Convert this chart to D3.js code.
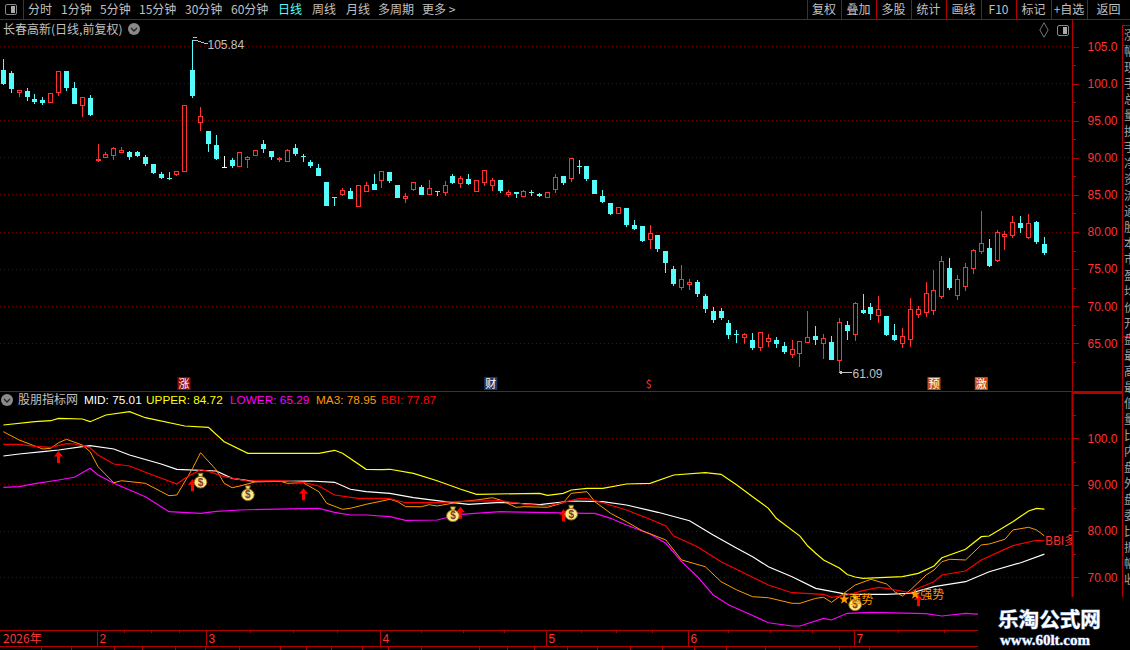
<!DOCTYPE html>
<html>
<head>
<meta charset="utf-8">
<script src="https://cdn.jsdelivr.net/npm/d3@7"></script>
<style>
  html, body { margin: 0; padding: 0; background: #000; overflow: hidden; }
  svg { display: block; }
  text { font-family: "Liberation Sans", "Noto Sans CJK SC", sans-serif; }
  .cjk { font-family: "Noto Sans CJK SC", sans-serif; }
</style>
</head>
<body>
<script>
// candles, one entry per trading day
var opens = [101.80,101.40,98.83,98.96,97.88,97.75,97.39,98.78,101.67,99.37,97.07,98.02,89.64,90.05,90.36,90.72,90.72,90.72,90.05,89.10,87.88,87.34,87.75,88.15,101.80,94.82,93.56,91.67,88.76,89.77,88.74,89.68,90.23,91.80,90.86,89.73,89.50,91.26,90.18,89.37,88.69,86.80,84.77,85.09,85.59,83.47,85.50,86.53,
  86.98,88.02,86.40,84.50,85.72,86.13,85.05,85.54,85.32,87.61,86.53,87.21,85.45,86.71,86.26,87.07,85.05,85.36,84.77,85.45,85.18,84.64,85.72,87.48,87.21,88.96,88.83,87.07,84.91,83.96,82.52,83.29,80.99,80.86,78.96,79.64,77.48,75.05,72.48,72.88,73.29,71.40,69.37,69.37,67.75,66.26,65.72,
  65.45,64.50,65.18,65.45,64.64,63.42,63.60,65.05,65.99,64.91,65.18,62.61,67.48,66.13,69.50,69.91,68.69,68.69,66.13,64.91,65.45,68.83,69.10,69.37,71.26,75.18,71.40,72.61,75.05,77.34,77.88,76.13,79.41,79.50,81.26,79.23,81.40,78.42];
var closes = [99.91,99.23,99.05,98.15,97.48,97.34,98.65,101.62,99.37,97.21,98.11,95.72,89.77,90.45,91.26,90.99,90.05,90.18,89.10,87.88,87.34,87.25,88.11,97.03,98.29,95.59,91.80,89.77,88.76,88.96,90.68,90.00,90.95,91.13,90.05,89.86,90.95,90.45,90.05,88.83,87.61,83.56,84.68,85.59,84.50,86.26,86.26,85.72,
  88.15,86.80,84.64,84.77,86.67,85.05,85.86,85.41,86.26,86.67,87.21,86.53,86.94,88.29,86.94,85.59,85.36,85.05,85.45,85.27,84.86,85.27,87.34,86.53,89.91,88.87,87.07,85.18,84.10,82.48,83.29,80.99,80.45,78.83,79.77,77.75,75.86,73.02,73.56,73.15,71.67,69.64,68.15,68.42,66.13,66.13,66.13,
  64.37,66.49,65.59,64.91,63.83,64.10,65.18,65.72,65.45,65.59,62.75,67.75,66.67,70.32,69.10,68.96,69.50,66.13,65.45,65.86,69.50,69.50,71.67,72.07,75.99,72.48,73.56,75.18,77.48,78.42,75.45,79.91,79.64,81.26,80.59,81.13,78.69,77.18];
var highs = [103.29,101.67,99.19,99.37,98.56,98.15,98.65,101.62,101.67,100.18,98.11,98.42,91.80,90.72,91.40,91.40,90.86,90.86,90.32,89.23,88.15,88.02,88.11,97.03,105.84,96.80,93.56,93.02,90.18,89.91,90.68,90.18,90.95,92.34,90.86,90.14,91.22,91.80,90.45,89.77,89.23,86.80,84.77,85.99,85.99,86.40,86.76,87.88,
  88.15,88.15,86.40,85.32,86.67,86.40,87.07,85.59,86.94,87.75,87.48,87.88,86.94,88.29,87.34,87.07,85.72,85.45,85.72,85.72,85.32,85.27,87.75,87.61,89.91,89.77,88.96,87.07,85.72,83.96,83.42,83.29,81.67,80.86,80.99,79.64,77.48,75.45,75.59,73.69,73.56,71.67,69.91,69.77,68.15,66.80,66.40,
  66.40,66.49,66.26,65.86,65.18,65.45,65.18,69.37,67.34,66.26,65.99,68.42,68.02,70.59,71.67,70.45,71.40,68.69,67.61,67.07,71.13,70.05,73.29,74.91,76.80,76.53,74.23,75.86,77.75,82.88,79.10,80.32,80.18,82.21,82.21,82.48,81.53,79.37];
var lows = [99.77,98.69,98.15,97.61,97.21,97.07,97.39,98.29,98.96,97.21,95.45,95.59,89.50,89.91,89.64,90.59,89.77,90.05,88.96,87.75,87.21,87.07,87.48,88.15,98.02,93.56,90.72,89.64,88.56,88.56,88.74,88.69,90.23,90.59,89.64,89.37,89.37,90.18,89.37,88.56,87.48,83.56,83.56,84.91,84.50,83.47,85.50,85.72,
  85.99,86.67,84.64,83.96,85.59,85.05,85.05,84.91,84.91,86.53,85.99,86.40,85.45,86.26,85.59,85.32,84.77,84.64,84.77,84.91,84.77,84.64,85.32,86.40,86.80,87.88,86.94,85.18,83.96,82.34,82.52,80.72,80.32,78.69,77.75,77.34,74.50,72.75,72.21,72.21,71.26,69.10,67.75,68.15,65.59,65.05,64.91,
  64.10,63.96,64.50,64.37,63.56,63.02,61.80,65.05,64.77,62.88,62.75,61.09,65.45,65.32,68.96,68.15,67.75,65.99,65.32,64.37,64.50,68.42,68.56,68.83,70.99,72.21,70.86,72.07,74.37,77.07,75.32,75.99,77.61,79.23,79.91,79.10,78.42,76.94];

// indicator lines, read at the listed day numbers
var midIdx = [0,2,5,7,10,11,14,16,20,22,27,29,32,39,42,44,46,49,52,56,59,63,68,72,76,79,83,87,90,93,95,97,100,103,107,112,115,118,122,125,129,132];
var midVals = [96.20,96.63,97.13,97.49,98.21,98.42,97.71,96.41,94.47,93.33,92.96,91.38,90.65,90.80,90.52,89.01,88.49,88.14,87.19,86.33,85.77,86.20,85.68,86.48,86.33,85.62,84.04,82.22,79.14,76.26,74.45,72.29,70.13,67.62,66.33,66.33,66.55,67.97,69.05,71.21,73.15,75.01];
var upperIdx = [0,4,6,7,10,11,13,16,18,23,26,28,31,40,42,43,46,48,49,52,55,58,60,68,69,71,72,74,76,79,82,85,89,91,93,95,97,98,101,102,103,104,106,107,108,109,114,116,118,119,122,124,125,128,130,131,132];
var upperVals = [102.89,103.61,103.82,104.34,104.19,103.61,105.05,105.77,104.47,102.68,102.40,99.29,96.78,96.78,97.43,96.78,93.33,93.24,93.33,92.46,90.86,89.01,87.93,88.14,87.71,88.14,88.85,89.22,89.22,90.15,90.30,92.10,92.59,92.25,89.94,87.41,84.90,82.74,78.90,76.76,75.20,73.74,72.00,70.60,70.07,69.78,70.13,70.86,72.44,74.23,76.05,78.77,78.92,82.01,84.32,84.90,84.72];
var lowerIdx = [0,2,4,7,9,11,12,14,18,21,25,27,30,33,40,42,44,46,49,51,55,58,63,69,74,75,77,79,82,84,86,88,90,92,95,97,100,101,104,105,107,110,117,119,122,124,132];
var lowerVals = [89.44,89.57,90.22,91.01,91.60,93.54,92.10,90.30,87.41,84.17,83.82,84.25,84.54,84.69,84.90,84.04,83.46,83.46,83.09,82.31,82.38,83.61,84.17,83.95,83.82,83.82,82.74,81.30,79.35,77.34,73.37,70.13,66.18,64.02,61.75,60.19,59.48,59.48,61.14,60.78,62.22,62.44,62.14,61.64,62.22,62.01,65.29];
var ma3Idx = [0,2,4,5,6,7,8,10,11,12,14,15,18,21,22,24,25,27,28,29,30,32,35,36,38,40,41,43,44,46,48,49,50,51,53,54,55,58,60,62,63,65,66,69,71,72,74,75,77,79,81,84,85,86,89,91,93,95,97,100,101,103,104,105,106,108,110,112,113,114,115,117,118,119,120,122,124,125,127,128,130,131,132];
var ma3Vals = [101.45,99.65,98.36,97.71,97.86,99.07,99.81,98.57,97.13,93.89,90.43,90.86,90.30,87.62,87.78,93.54,96.91,93.17,90.30,89.35,89.72,90.65,90.80,90.30,90.43,88.49,85.98,84.69,84.90,85.77,86.48,86.85,86.33,85.25,85.25,85.68,85.40,86.33,86.70,87.19,86.70,85.12,85.25,85.12,86.11,88.14,88.49,86.33,83.82,82.01,80.06,78.06,75.90,73.74,72.29,69.05,67.26,65.81,65.59,64.38,64.38,65.46,65.68,64.60,65.81,68.34,69.57,68.55,66.89,65.96,67.26,70.50,71.58,73.37,73.89,73.74,76.98,77.19,78.21,80.22,80.80,80.22,78.95];
var bbiIdx = [0,2,4,6,8,9,11,12,14,16,18,22,23,25,26,28,31,35,38,40,42,45,48,49,51,55,58,63,66,69,73,74,76,79,82,84,85,88,91,95,97,100,104,105,107,109,111,112,115,116,118,119,122,124,128,131,132];
var bbiVals = [98.73,98.73,98.29,98.08,98.86,98.79,97.99,96.41,94.47,94.04,92.68,90.15,91.38,93.24,92.89,91.73,90.80,90.86,90.52,89.72,87.78,87.06,87.06,86.98,86.11,86.11,86.41,86.54,85.83,85.40,86.98,86.98,86.11,84.54,82.53,81.08,78.92,76.61,73.37,70.00,68.34,66.67,66.33,65.68,66.18,67.11,67.84,67.62,66.67,67.62,69.05,70.50,71.36,73.74,76.83,78.00,77.87];

// tick labels and markers
var priceTicks = [105,100,95,90,85,80,75,70,65];
var priceMinor = [102.5,97.5,92.5,87.5,82.5,77.5,72.5,67.5,62.5];
var indTicks = [100,90,80,70];
var indMinor = [105,95,85,75,65];
var monthLabels = ["2","3","4","5","6","7"];
var monthDays = [12,25.9,48,69,87,108];
var weekDays = [15.5,18.9,22.4,31.4,36.9,42.5,53.1,58.5,63.7,73.4,77.9,82.4,92.1,97.4,102.7,113.6,119.5];
var stripDays = [4.9,8.8,14.2,17.8,22,25.8,30.1,35.3,38.6,41.7,45.7,49,53.1,60.5,64,67.5,71.6,75.5,79.6,83.7,87.7,91.8,96.7,106.1,110];
var tagDays = [22.9,61.8,81.8,118,124];
var tagTexts = ["涨","财","$","预","激"];
var tagFills = ["#8a0a0a","#1c3a6e","#000000","#c8500f","#c8500f"];
var bagDays = [25,31,57,72,108];
var bagVals = [90.86,88.14,83.61,83.95,64.38];
var arrowDays = [7,24,38,58,71,116];
var arrowVals = [97.28,91.17,89.22,85.25,84.69,66.33];
var strongDays = [107,116];
var strongVals = [65.25,66.33];
var periodLabels = ["分时","1分钟","5分钟","15分钟","30分钟","60分钟","日线","周线","月线","多周期","更多 >"];
var periodLefts = [28,61,100,139,185,231,278,312,346,378,422];
var toolLabels = ["复权","叠加","多股","统计","画线","F10","标记","+自选","返回"];
var toolEdges = [807,841,876,911,946,981,1016,1051,1087,1130];
var sideRows = ["涨","幅","现","手","总","量","换","手","净","资","流","通","股","本","市","盈","均","价","开","盘","最","高","最","低","量","比","内","盘","外","盘","委","比","振","幅","收"];
var legendTexts = ["MID: 75.01","UPPER: 84.72","LOWER: 65.29","MA3: 78.95","BBI: 77.87"];
var legendLefts = [84,146,230,316,381];
var lineColors = ["#ffffff","#ffff00","#ff00ff","#ff9900","#ff0000"];
var lineWidths = [1.2,1.2,1.2,1,1.2];

var RED = "#ff3232", CYAN = "#54fcfc", AXIS = "#b40000", GRID = "#680000", GREY = "#c0c0c0";

var svg = d3.select("body").append("svg").attr("width", 1130).attr("height", 650);
svg.append("rect").attr("width", 1130).attr("height", 650).attr("fill", "#000");

var x = d3.scaleLinear().domain([0, 132]).range([3.4, 1044.4]);
var yPrice = d3.scaleLinear().domain([65, 105]).range([343.3, 46.5]);
var yInd = d3.scaleLinear().domain([70, 100]).range([577.3, 438.4]);

function px(v){ return Math.floor(v) + 0.5; }

// dotted grid
function grid(ticks, scale){
    svg.append("g").selectAll("line").data(ticks).join("line")
        .attr("x1", 0).attr("x2", 1072)
        .attr("y1", d => px(scale(d))).attr("y2", d => px(scale(d)))
        .attr("stroke", GRID).attr("stroke-dasharray", "1 3");
}
grid(priceTicks, yPrice);
grid(indTicks, yInd);

// panel frames
function hline(y, x1, x2, w){
    svg.append("line").attr("x1", x1).attr("x2", x2).attr("y1", y).attr("y2", y)
        .attr("stroke", AXIS).attr("stroke-width", w || 1);
}
function vline(x0, y1, y2, w){
    svg.append("line").attr("x1", x0).attr("x2", x0).attr("y1", y1).attr("y2", y2)
        .attr("stroke", AXIS).attr("stroke-width", w || 1);
}
hline(19.5, 0, 1130);
hline(391.5, 0, 1122);
hline(393, 1072, 1122, 2);
hline(630.5, 0, 1130);
hline(646.5, 0, 1130);
vline(1072.5, 19, 391);
vline(1072.5, 391, 600, 2);
vline(1122.5, 25, 600);
vline(23.5, 0, 19);
[807,841,876,911,946,981,1016,1051,1087].forEach(d => vline(d + 0.5, 0, 19));

// price and indicator axes
function fmt(v){ return v >= 100 ? v.toFixed(1) : v.toFixed(2); }
function drawAxis(scale, major, minor){
    var g = svg.append("g").attr("transform", "translate(1072.5,0)")
        .call(d3.axisRight(scale).tickValues(major).tickFormat(fmt).tickSize(6).tickPadding(9));
    g.select(".domain").remove();
    g.selectAll("line").attr("stroke", AXIS).attr("shape-rendering", "crispEdges");
    g.selectAll("text").attr("fill", RED).attr("font-size", 12)
        .style("font-family", "Liberation Sans");
    var m = svg.append("g").attr("transform", "translate(1072.5,0)")
        .call(d3.axisRight(scale).tickValues(minor).tickFormat("").tickSize(3));
    m.select(".domain").remove();
    m.selectAll("line").attr("stroke", AXIS).attr("shape-rendering", "crispEdges");
}
drawAxis(yPrice, priceTicks, priceMinor);
drawAxis(yInd, indTicks, indMinor);

// candles
var days = d3.range(opens.length);
function candleColor(i){
    if (closes[i] > opens[i]) return RED;
    if (closes[i] < opens[i]) return CYAN;
    return "#ffffff";
}
var candles = svg.append("g").attr("shape-rendering", "crispEdges");
candles.selectAll(".wick").data(days).join("line")
    .attr("class", "wick")
    .attr("x1", d => px(x(d))).attr("x2", d => px(x(d)))
    .attr("y1", d => yPrice(highs[d])).attr("y2", d => yPrice(lows[d]))
    .attr("stroke", candleColor);
candles.selectAll(".body").data(days).join("rect")
    .attr("class", "body")
    .attr("x", d => closes[d] > opens[d] ? px(x(d)) - 2 : px(x(d)) - 2.5)
    .attr("width", d => closes[d] > opens[d] ? 4 : 5)
    .attr("y", d => {
        var t = yPrice(Math.max(opens[d], closes[d]));
        return closes[d] > opens[d] ? px(t) : Math.round(t);
    })
    .attr("height", d => Math.max(1, Math.round(Math.abs(yPrice(opens[d]) - yPrice(closes[d])))))
    .attr("fill", d => closes[d] > opens[d] ? "#000" : candleColor(d))
    .attr("stroke", d => closes[d] > opens[d] ? RED : "none");

// high and low notes
var fy = yPrice(105.84), fx = px(x(24));
svg.append("path")
    .attr("d", "M" + fx + "," + (fy - 3) + "h4M" + fx + "," + (fy) + "h3l3,1l3,1l3,1h3")
    .attr("fill", "none").attr("stroke", GREY).attr("shape-rendering", "crispEdges");
svg.append("text").attr("x", fx + 15).attr("y", fy + 9).attr("fill", GREY).attr("font-size", 12).text("105.84");
var ly = px(yPrice(61.09)), lx = px(x(106));
svg.append("path")
    .attr("d", "M" + (lx + 12) + "," + ly + "H" + lx + "m3,-2l-3,2l3,2")
    .attr("fill", "none").attr("stroke", GREY).attr("shape-rendering", "crispEdges");
svg.append("text").attr("x", lx + 13).attr("y", ly + 5).attr("fill", GREY).attr("font-size", 12).text("61.09");

// event tags above the divider
var tags = svg.append("g").selectAll("g").data(tagDays).join("g")
    .attr("transform", d => "translate(" + x(d) + ",384)");
tags.append("rect").attr("x", -6.5).attr("y", -7).attr("width", 13).attr("height", 13)
    .attr("fill", (d, i) => tagFills[i]);
tags.append("text").attr("class", "cjk").attr("text-anchor", "middle").attr("y", 4).attr("font-size", 11)
    .attr("fill", (d, i) => i == 2 ? RED : "#fff").text((d, i) => tagTexts[i]);

// indicator lines
var lineGen = d3.line().x(d => x(d[0])).y(d => yInd(d[1]));
var lineSets = [[midIdx, midVals], [upperIdx, upperVals], [lowerIdx, lowerVals], [ma3Idx, ma3Vals], [bbiIdx, bbiVals]];
lineSets.forEach(function(s, i){
    svg.append("path")
        .attr("d", lineGen(d3.zip(s[0], s[1])))
        .attr("fill", "none").attr("stroke", lineColors[i])
        .attr("stroke-width", lineWidths[i]);
});

// red arrows
svg.append("g").selectAll("path").data(arrowDays).join("path")
    .attr("transform", (d, i) => "translate(" + px(x(d)) + "," + yInd(arrowVals[i]) + ")")
    .attr("d", "M0,0L4.5,5.5H1.5V12H-1.5V5.5H-4.5Z").attr("fill", "#ff0000");

// money bags
var bags = svg.append("g").selectAll("g").data(bagDays).join("g")
    .attr("transform", (d, i) => "translate(" + x(d) + "," + yInd(bagVals[i]) + ")");
bags.append("path").attr("d", "M-2.5,-7.5h5l-1,3.5h-3Z").attr("fill", "#f5d878").attr("stroke", "#7a5a10").attr("stroke-width", 0.8);
bags.append("ellipse").attr("cx", 0).attr("cy", 1.5).attr("rx", 6.3).attr("ry", 5.8)
    .attr("fill", "#fbe98c").attr("stroke", "#9a7418").attr("stroke-width", 1);
bags.append("text").attr("text-anchor", "middle").attr("y", 5).attr("font-size", 10).attr("font-weight", "bold")
    .attr("fill", "#7a3a1a").text("$");

// strong signal
var strong = svg.append("g").selectAll("g").data(strongDays).join("g")
    .attr("transform", (d, i) => "translate(" + (x(d) - 3) + "," + yInd(strongVals[i]) + ")");
strong.append("path").attr("d", d3.symbol(d3.symbolStar, 35)).attr("fill", "#ff9900");
strong.append("text").attr("class", "cjk").attr("x", 5).attr("y", 5).attr("font-size", 12)
    .attr("fill", "#ff9900").text("强势");

// BBI note, cut at the axis
svg.append("clipPath").attr("id", "mainClip").append("rect").attr("width", 1072).attr("height", 650);
svg.append("text").attr("class", "cjk").attr("clip-path", "url(#mainClip)")
    .attr("x", 1045).attr("y", yInd(77.87) + 4).attr("font-size", 12).attr("fill", RED).text("BBI多");

// time axis
svg.append("text").attr("class", "cjk").attr("x", 3).attr("y", 643).attr("font-size", 12).attr("fill", RED).text("2026年");
var mx = d => px(x(d) - 1);
svg.append("g").selectAll("line").data(monthDays).join("line")
    .attr("x1", mx).attr("x2", mx).attr("y1", 630).attr("y2", 646).attr("stroke", AXIS);
svg.append("g").selectAll("text").data(monthDays).join("text")
    .attr("x", d => mx(d) + 2).attr("y", 643).attr("font-size", 12).attr("fill", RED)
    .text((d, i) => monthLabels[i]);
svg.append("g").selectAll("line").data(weekDays).join("line")
    .attr("x1", mx).attr("x2", mx).attr("y1", 631).attr("y2", 633).attr("stroke", AXIS);
svg.append("g").selectAll("line").data(stripDays).join("line")
    .attr("x1", mx).attr("x2", mx).attr("y1", 647).attr("y2", 650).attr("stroke", AXIS);

// menu bar
svg.append("rect").attr("x", 5.5).attr("y", 4.5).attr("width", 11).attr("height", 10).attr("rx", 1.5)
    .attr("fill", "none").attr("stroke", "#888");
svg.append("rect").attr("x", 11).attr("y", 6).attr("width", 4).attr("height", 7).attr("fill", "#aaa");
svg.append("g").selectAll("text").data(periodLabels).join("text")
    .attr("class", "cjk").attr("x", (d, i) => periodLefts[i]).attr("y", 14).attr("font-size", 12)
    .attr("fill", d => d == "日线" ? CYAN : GREY).text(d => d);
svg.append("g").selectAll("text").data(toolLabels).join("text")
    .attr("class", "cjk").attr("text-anchor", "middle")
    .attr("x", (d, i) => (toolEdges[i] + toolEdges[i + 1]) / 2).attr("y", 14).attr("font-size", 12)
    .attr("fill", GREY).text(d => d);

// title and small icons
svg.append("text").attr("class", "cjk").attr("x", 3).attr("y", 34).attr("font-size", 12)
    .attr("fill", GREY).text("长春高新(日线,前复权)");
function chevron(cx, cy){
    svg.append("circle").attr("cx", cx).attr("cy", cy).attr("r", 6).attr("fill", "#8a8a8a");
    svg.append("path").attr("d", "M" + (cx - 3) + "," + (cy - 1) + "l3,3l3,-3")
        .attr("fill", "none").attr("stroke", "#222").attr("stroke-width", 1.3);
}
chevron(134, 29);
chevron(7, 400);
svg.append("path").attr("d", d3.symbol(d3.symbolDiamond, 60)).attr("transform", "translate(1044,30)")
    .attr("fill", "none").attr("stroke", "#777");
svg.append("rect").attr("x", 1057.5).attr("y", 25.5).attr("width", 11).attr("height", 10).attr("rx", 1.5)
    .attr("fill", "none").attr("stroke", "#888");
svg.append("rect").attr("x", 1063).attr("y", 27).attr("width", 4).attr("height", 7).attr("fill", "#aaa");

// indicator legend
svg.append("text").attr("class", "cjk").attr("x", 18).attr("y", 404).attr("font-size", 12)
    .attr("fill", GREY).text("股朋指标网");
svg.append("g").selectAll("text").data(legendTexts).join("text")
    .attr("x", (d, i) => legendLefts[i]).attr("y", 404).attr("font-size", 11.8)
    .attr("fill", (d, i) => lineColors[i]).text(d => d);

// cut-off side panel
hline(25.5, 1122, 1130);
hline(45.5, 1122, 1130);
hline(142.5, 1122, 1130);
hline(239.5, 1122, 1130);
hline(336.5, 1122, 1130);
svg.append("g").selectAll("text").data(sideRows).join("text")
    .attr("class", "cjk").attr("x", 1124).attr("y", (d, i) => 40 + i * 16).attr("font-size", 12)
    .attr("fill", "#a0a0a0").text(d => d);

// watermark block
svg.append("rect").attr("x", 978).attr("y", 597).attr("width", 152).attr("height", 53).attr("fill", "#000");
svg.append("text").attr("class", "cjk").attr("x", 998).attr("y", 627).attr("font-size", 20.6).attr("font-weight", "bold")
    .attr("fill", "#fff").style("paint-order", "stroke").attr("stroke", "#5a7fb0").attr("stroke-width", 1).text("乐淘公式网");
svg.append("text").attr("x", 1000).attr("y", 645).attr("font-size", 15).attr("font-weight", "bold")
    .style("font-family", "Liberation Serif").attr("fill", "#fff")
    .style("paint-order", "stroke").attr("stroke", "#4a70c0").attr("stroke-width", 1).text("www.60lt.com");
</script>
</body>
</html>
